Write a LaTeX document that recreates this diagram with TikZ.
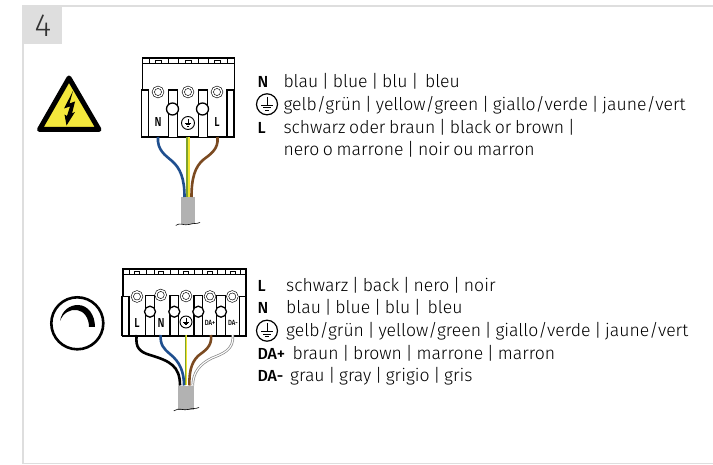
\documentclass[tikz,border=0pt]{standalone}
\usepackage{fontspec}
\setmainfont{Fira Sans Light}[WordSpace=.75]
\newfontfamily\labelfont{Fira Sans Medium}
\newfontfamily\narrowfont{Fira Sans Medium}[FakeStretch=.8]
\usepackage{xcolor}
\colorlet{colorFrame}{black!13}
\colorlet{colorCable}{black!30}
\definecolor{colorSign}{HTML}{F4E83C}
\definecolor{colorBlue}{HTML}{1F4F8F}
\definecolor{colorBrown}{HTML}{7B4A21}
\definecolor{colorGreen}{HTML}{7FA32C}
\definecolor{colorYellow}{HTML}{F2E52E}
\tikzset{
  legend/.style={anchor=base west, inner sep=0pt, font=\fontsize{17.6}{20}\selectfont},
  tag/.style={anchor=base west, inner sep=0pt, font=\labelfont\fontsize{16}{18}\selectfont},
  termtag/.style={inner sep=0pt, font=\narrowfont\fontsize{13}{14}\selectfont},
  smalltag/.style={inner sep=0pt, font=\narrowfont\fontsize{7.5}{8}\selectfont},
  body/.style={draw, line width=1.3pt, fill=white, inner sep=0pt, anchor=north west},
  slotbox/.style={draw, line width=1.3pt, fill=white, inner sep=0pt, minimum width=9pt, anchor=north},
  capdot/.style={circle, draw, line width=1.3pt, fill=white, inner sep=0pt, minimum size=12pt},
  ring/.style={circle, draw, line width=.6pt, fill=white, inner sep=0pt, minimum size=#1, double, double distance=1.5pt},
  ring/.default=9.5pt,
  wire/.style={line width=2.6pt},
  earthring/.style={circle, draw, line width=.9pt, inner sep=0pt, minimum size=#1},
  earthmark/.pic={
    \draw[line width=.8pt] (0,-.72) -- (0,.05);
    \draw[line width=.8pt] (-.55,.1) -- (.55,.1);
    \draw[line width=.8pt] (-.36,.33) -- (.36,.33);
    \draw[line width=.8pt] (-.17,.56) -- (.17,.56);
  }
}
\begin{document}
\begin{tikzpicture}[x=1pt, y=-1pt]
\useasboundingbox (0,0) rectangle (713,465);
% frame
\coordinate (frameTR) at (713,6);
\coordinate (frameTL) at (23,6);
\coordinate (frameBL) at (23,463.5);
\coordinate (frameBR) at (713,463.5);
\draw[colorFrame, line width=2.2pt] (frameTR) -- (frameTL) -- (frameBL);
\draw[colorFrame, line width=1.6pt] (frameBL) -- (frameBR);
\node[fill=colorFrame, inner sep=0pt, minimum width=40pt, minimum height=37pt, anchor=north west] (numBox) at (22,7) {};
\node[font=\fontsize{32}{32}\selectfont, text=black!80] (num) at (43,25.5) {4};

% warning sign
\draw[line width=5pt, line join=round, fill=colorSign] (69,78) -- (39.5,129.5) -- (99,129.5) -- cycle;
\fill (73,91) -- (64,108.5) -- (70,106.5) -- (67,116) -- (64.5,114.5) -- (66.5,125.5) -- (75,112) -- (72,113.5) -- (75,101.5) -- (69.5,103.5) -- cycle;

% upper connector
\node[body, minimum width=92pt, minimum height=79pt] (topBody) at (142,57.5) {};
\draw[line width=1.3pt] (142,63.5) -- (233.7,63.5);
\draw[line width=.9pt] (149,58) -- (149,63) (168,58) -- (168,63) (178,58) -- (178,63) (198,58) -- (198,63) (208,58) -- (208,63) (227,58) -- (227,63);
\draw[line width=.7pt] (155,63) -- (155,60.5) -- (161,60.5) -- (161,63) (185,63) -- (185,60.5) -- (191,60.5) -- (191,63) (214,63) -- (214,60.5) -- (220,60.5) -- (220,63);
\node[slotbox, minimum width=7pt, minimum height=47pt] (topStripL) at (145,89.5) {};
\node[slotbox, minimum height=47.5pt] (topSlotA) at (173,89.5) {};
\node[slotbox, minimum height=47.5pt] (topSlotB) at (203,89.5) {};
\node[slotbox, minimum width=7pt, minimum height=47pt] (topStripR) at (230.5,89.5) {};
\node[capdot] (topCapA) at (172.5,109) {};
\node[capdot] (topCapB) at (202.5,109) {};
\node[ring] (topRingN) at (158,92) {};
\node[ring] (topRingE) at (188,92) {};
\node[ring] (topRingL) at (217,92) {};
\node[termtag] (topTagN) at (158,122.5) {N};
\node[earthring=13pt] (topEarth) at (188,123) {};
\pic[scale=5.5] at (topEarth.center) {earthmark};
\node[termtag] (topTagL) at (217,122.5) {L};

% upper cable
\coordinate (topWireN) at (158,137);
\coordinate (topWireE) at (188,137);
\coordinate (topWireL) at (217.5,137);
\node[fill=colorCable, inner sep=0pt, minimum width=14pt, minimum height=27pt, anchor=north] (topCable) at (188,197) {};
\draw[wire, colorBlue] (topWireN) .. controls (157,150) and (165,155) .. (172,161) .. controls (180,168) and (184.5,178) .. (184.5,197);
\draw[wire, colorBrown] (topWireL) .. controls (219,150) and (209,155) .. (203,160) .. controls (195,167) and (191.5,178) .. (191.5,197);
\draw[colorGreen, line width=1.6pt] (topWireE)++(-.8,0) -- (187.2,197);
\draw[colorYellow, line width=1.6pt] (topWireE)++(.8,0) -- (188.8,197);
\draw[line width=.6pt] (topCable.south west)++(-5,1) .. controls (180,222) and (184,226) .. (189,224.5) .. controls (193,223) and (197,224) .. (200,222.5);

% dimmer sign
\node[circle, draw, line width=2.6pt, inner sep=0pt, minimum size=52pt] (dimSign) at (77.3,323.3) {};
\fill (60,321) .. controls (62,310) and (70,305) .. (78,305) .. controls (88,305) and (95,315) .. (95,327) -- (89,327) .. controls (89,318) and (84,311) .. (77,310) .. controls (70,309) and (63,313) .. (60,321) -- cycle;

% lower connector
\node[body, minimum width=123pt, minimum height=67pt] (lowBody) at (122.3,268.3) {};
\draw[line width=1.3pt] (122.3,274.3) -- (245.3,274.3);
\draw[line width=.9pt] (129,269) -- (129,274) (146,269) -- (146,274) (154,269) -- (154,274) (170,269) -- (170,274) (178,269) -- (178,274) (194,269) -- (194,274) (202,269) -- (202,274) (217,269) -- (217,274) (225,269) -- (225,274) (240,269) -- (240,274);
\draw[line width=.7pt] (134,274) -- (134,271.5) -- (139,271.5) -- (139,274) (158,274) -- (158,271.5) -- (163,271.5) -- (163,274) (183,274) -- (183,271.5) -- (188,271.5) -- (188,274) (207,274) -- (207,271.5) -- (212,271.5) -- (212,274) (230,274) -- (230,271.5) -- (235,271.5) -- (235,274);
\node[slotbox, minimum width=7pt, minimum height=39pt] (lowStripL) at (125.5,296) {};
\node[slotbox, minimum width=8.5pt, minimum height=40pt] (lowSlotA) at (150,295) {};
\node[slotbox, minimum width=8.5pt, minimum height=40pt] (lowSlotB) at (174.3,295) {};
\node[slotbox, minimum width=8.5pt, minimum height=40pt] (lowSlotC) at (198.3,295) {};
\node[slotbox, minimum width=8.5pt, minimum height=40pt] (lowSlotD) at (221,295) {};
\node[slotbox, minimum width=5.5pt, minimum height=39pt] (lowStripR) at (242.5,296) {};
\node[capdot, minimum size=11pt] (lowCapA) at (150,311.7) {};
\node[capdot, minimum size=11pt] (lowCapB) at (174.3,311.7) {};
\node[capdot, minimum size=11pt] (lowCapC) at (198.3,311.7) {};
\node[capdot, minimum size=11pt] (lowCapD) at (221,311.7) {};
\node[ring] (lowRingL) at (137,296.5) {};
\node[ring] (lowRingN) at (160.7,295) {};
\node[ring] (lowRingE) at (186,296) {};
\node[ring] (lowRingP) at (210,296.5) {};
\node[ring] (lowRingM) at (232.3,296.5) {};
\node[termtag] (lowTagL) at (137,323) {L};
\node[termtag] (lowTagN) at (161,323) {N};
\node[earthring=12pt] (lowEarth) at (186,322) {};
\pic[scale=5] at (lowEarth.center) {earthmark};
\node[smalltag] (lowTagP) at (210,323) {DA+};
\node[smalltag] (lowTagM) at (233,323) {DA-};

% lower cable
\coordinate (lowWireL) at (136.7,335);
\coordinate (lowWireN) at (160.7,335);
\coordinate (lowWireE) at (186,335);
\coordinate (lowWireP) at (211,335);
\coordinate (lowWireM) at (232.7,335);
\node[fill=colorCable, inner sep=0pt, minimum width=16pt, minimum height=24pt, anchor=north] (lowCable) at (186,385.5) {};
\draw[wire] (lowWireL) .. controls (135,348) and (140,352) .. (150,355) .. controls (170,361) and (180,366) .. (180,385.5);
\draw[wire, colorBlue] (lowWireN) .. controls (160,345) and (164,349) .. (170,354) .. controls (180,362) and (184,372) .. (184,385.5);
\draw[wire, colorBrown] (lowWireP) .. controls (212.5,347) and (204,351) .. (198,356) .. controls (191,363) and (189.3,372) .. (189.3,385.5);
\draw[wire, black!45] (lowWireM) .. controls (234.5,350) and (222,354) .. (212,358) .. controls (200,364) and (193,372) .. (192.7,385.5);
\draw[white, line width=1.1pt] (lowWireM) .. controls (234.5,350) and (222,354) .. (212,358) .. controls (200,364) and (193,372) .. (192.7,385.5);
\draw[colorGreen, line width=1.3pt] (lowWireE)++(-.6,0) -- (185.4,385.5);
\draw[colorYellow, line width=1.3pt] (lowWireE)++(.6,0) -- (186.6,385.5);
\draw[line width=.6pt] (lowCable.south west)++(-4,1) .. controls (179,407) and (184,411) .. (188,409.5) .. controls (192,408) and (196,409) .. (199,407.5);

% upper legend
\node[tag] (upN) at (257.3,88) {N};
\node[legend] (upBlue) at (283.3,88) {blau | blue | blu |\, bleu};
\node[earthring=21pt, line width=1.2pt] (upEarth) at (267,104.3) {};
\pic[scale=10.5, line width=1pt] at (upEarth.center) {earthmark};
\node[legend] (upGreen) at (283.3,110.7) {gelb/grün | yellow/green | giallo/verde | jaune/vert};
\node[tag] (upL) at (257.3,133.2) {L};
\node[legend] (upBrown) at (283.3,133.2) {schwarz oder braun | black or brown |};
\node[legend] (upBrownB) at (283.3,155.8) {nero o marrone | noir ou marron};

% lower legend
\node[tag] (dnL) at (257.3,291.5) {L};
\node[legend] (dnBlack) at (286,291.5) {schwarz | back | nero | noir};
\node[tag] (dnN) at (257.3,313.5) {N};
\node[legend] (dnBlue) at (286,313.5) {blau | blue | blu |\, bleu};
\node[earthring=21pt, line width=1.2pt] (dnEarth) at (267,330.7) {};
\pic[scale=10.5, line width=1pt] at (dnEarth.center) {earthmark};
\node[legend] (dnGreen) at (286,336.5) {gelb/grün | yellow/green | giallo/verde | jaune/vert};
\node[tag] (dnP) at (257.3,359.3) {DA+};
\node[legend] (dnBrown) at (292.3,359.3) {braun | brown | marrone | marron};
\node[tag] (dnM) at (257.3,381.7) {DA-};
\node[legend] (dnGray) at (290,381.7) {grau | gray | grigio | gris};
\end{tikzpicture}
\end{document}
